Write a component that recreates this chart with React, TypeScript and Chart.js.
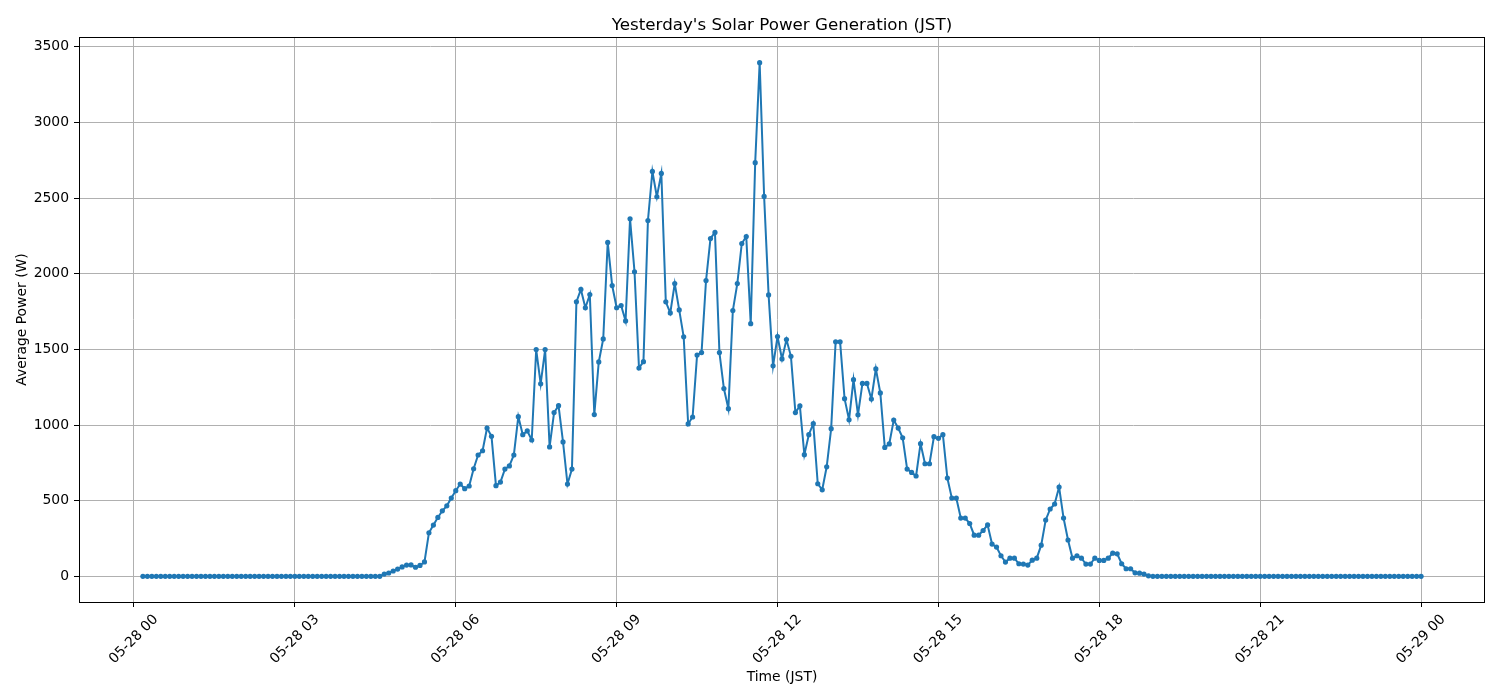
import React, { useEffect, useRef } from 'react';
import { Chart, registerables } from 'chart.js';

Chart.register(...registerables);

// ---- Data (minutes since 05-28 00:00 JST, 5-minute averages) ----
const START_MIN = 10; // first sample at 00:10
const STEP_MIN = 5;

// 00:10 – 04:35
const NIGHT_BEFORE = [
  0, 0, 0, 0, 0, 0, 0, 0, 0, 0, 0, 0, 0, 0, 0, 0, 0, 0,
  0, 0, 0, 0, 0, 0, 0, 0, 0, 0, 0, 0, 0, 0, 0, 0, 0, 0,
  0, 0, 0, 0, 0, 0, 0, 0, 0, 0, 0, 0, 0, 0, 0, 0, 0, 0,
];

// 04:40 – 18:55
const DAYTIME = [
  15, 22, 35, 48, 62, 74, 75, 60, 72, 95,
  288, 339, 389, 433, 466, 517, 566, 610, 579, 597,
  711, 802, 830, 980, 925, 599, 623, 709, 730, 802,
  1055, 936, 961, 901, 1499, 1272, 1499, 855, 1082, 1128,
  888, 610, 709, 1814, 1896, 1775, 1862, 1069, 1417, 1569,
  2207, 1922, 1775, 1790, 1688, 2363, 2013, 1377, 1419, 2352,
  2676, 2509, 2663, 1814, 1741, 1935, 1761, 1583, 1007, 1053,
  1463, 1479, 1955, 2233, 2273, 1479, 1241, 1108, 1757, 1935,
  2200, 2246, 1670, 2734, 3395, 2511, 1860, 1391, 1585, 1437,
  1565, 1454, 1082, 1126, 804, 936, 1009, 612, 572, 724,
  976, 1550, 1550, 1174, 1035, 1300, 1068, 1275, 1275, 1172,
  1371, 1212, 852, 875, 1033, 980, 916, 709, 687, 663,
  877, 744, 744, 923, 912, 936, 650, 517, 517, 385,
  385, 349, 272, 272, 303, 340, 213, 193, 136, 94,
  120, 120, 83, 81, 74, 107, 120, 206, 372, 445,
  478, 590, 385, 240, 120, 136, 120, 81, 81, 120,
  105, 105, 120, 153, 149, 83, 50, 50, 23, 21,
  15, 3,
];

// 19:00 – 24:00
const NIGHT_AFTER = [
  0, 0, 0, 0, 0, 0, 0, 0, 0, 0, 0, 0, 0, 0, 0, 0, 0, 0, 0, 0,
  0, 0, 0, 0, 0, 0, 0, 0, 0, 0, 0, 0, 0, 0, 0, 0, 0, 0, 0, 0,
  0, 0, 0, 0, 0, 0, 0, 0, 0, 0, 0, 0, 0, 0, 0, 0, 0, 0, 0, 0,
  0,
];

const X_TICK_MINUTES = [0, 180, 360, 540, 720, 900, 1080, 1260, 1440];
const X_TICK_LABELS = [
  '05-28 00', '05-28 03', '05-28 06', '05-28 09', '05-28 12',
  '05-28 15', '05-28 18', '05-28 21', '05-29 00',
];
const Y_TICKS = [0, 500, 1000, 1500, 2000, 2500, 3000, 3500];

const TITLE = "Yesterday's Solar Power Generation (JST)";
const X_LABEL = 'Time (JST)';
const Y_LABEL = 'Average Power (W)';

const FONT = "'DejaVu Sans', 'Liberation Sans', sans-serif";

const mplDecor = {
  id: 'mplDecor',
  afterDraw(chart: any) {
    const { ctx, chartArea } = chart;
    const { left, right, top, bottom } = chartArea;
    const cx = (left + right) / 2;
    const cy = (top + bottom) / 2;
    ctx.save();
    // spines
    ctx.strokeStyle = '#000';
    ctx.lineWidth = 1;
    ctx.strokeRect(left + 0.5, top + 0.5, right - left - 1, bottom - top);
    // title
    ctx.fillStyle = '#000';
    ctx.textAlign = 'center';
    ctx.textBaseline = 'alphabetic';
    ctx.font = `16.7px ${FONT}`;
    ctx.fillText(TITLE, cx, 29.5);
    // x label
    ctx.font = `13.9px ${FONT}`;
    ctx.fillText(X_LABEL, cx, 681);
    // y label
    ctx.translate(25.5, cy);
    ctx.rotate(-Math.PI / 2);
    ctx.fillText(Y_LABEL, 0, 0);
    ctx.restore();
  },
};

export default function App() {
  const ref = useRef<HTMLCanvasElement | null>(null);

  useEffect(() => {
    if (!ref.current) return;
    const values = [...NIGHT_BEFORE, ...DAYTIME, ...NIGHT_AFTER];
    const points = values.map((v, i) => ({ x: START_MIN + i * STEP_MIN, y: v }));
    const xFirst = points[0].x;
    const xLast = points[points.length - 1].x;
    const xPad = (xLast - xFirst) * 0.05;
    const yMinData = Math.min(...values);
    const yMaxData = Math.max(...values);
    const yPad = (yMaxData - yMinData) * 0.05;

    const chart = new Chart(ref.current, {
      type: 'line',
      data: {
        datasets: [
          {
            data: points,
            borderColor: '#1f77b4',
            backgroundColor: '#1f77b4',
            borderWidth: 2,
            pointRadius: 2.6,
            pointBorderWidth: 0,
            pointBackgroundColor: '#1f77b4',
            pointHoverRadius: 2.6,
            tension: 0,
            fill: false,
          },
        ],
      },
      options: {
        animation: false,
        responsive: false,
        devicePixelRatio: 1,
        events: [],
        layout: { padding: { left: 0, right: 15, top: 37, bottom: 0 } },
        plugins: {
          legend: { display: false },
          title: { display: false },
          tooltip: { enabled: false },
        },
        scales: {
          x: {
            type: 'linear',
            min: xFirst - xPad,
            max: xLast + xPad,
            afterBuildTicks: (axis: any) => {
              axis.ticks = X_TICK_MINUTES.map((v) => ({ value: v }));
            },
            afterFit: (s: any) => {
              s.height = 98;
            },
            border: { display: false },
            grid: {
              color: '#b0b0b0',
              lineWidth: 1,
              tickColor: '#000',
              tickLength: 5,
              drawTicks: true,
            },
            ticks: {
              autoSkip: false,
              minRotation: 45,
              maxRotation: 45,
              labelOffset: 22,
              padding: 4.4,
              color: '#000',
              font: { family: FONT, size: 13.9 },
              callback: (v: any) => {
                const idx = X_TICK_MINUTES.indexOf(Number(v));
                return idx >= 0 ? X_TICK_LABELS[idx] : '';
              },
            },
          },
          y: {
            type: 'linear',
            min: yMinData - yPad,
            max: yMaxData + yPad,
            afterBuildTicks: (axis: any) => {
              axis.ticks = Y_TICKS.map((v) => ({ value: v }));
            },
            afterFit: (s: any) => {
              s.width = 79;
            },
            border: { display: false },
            grid: {
              color: '#b0b0b0',
              lineWidth: 1,
              tickColor: '#000',
              tickLength: 5,
              drawTicks: true,
            },
            ticks: {
              padding: 5,
              color: '#000',
              font: { family: FONT, size: 13.9 },
              callback: (v: any) => String(v),
            },
          },
        },
      },
      plugins: [mplDecor],
    });
    return () => chart.destroy();
  }, []);

  return (
    <div style={{ position: 'absolute', left: 0, top: 0, width: 1500, height: 700, background: '#fff' }}>
      <canvas ref={ref} width={1500} height={700} style={{ display: 'block' }} />
    </div>
  );
}
